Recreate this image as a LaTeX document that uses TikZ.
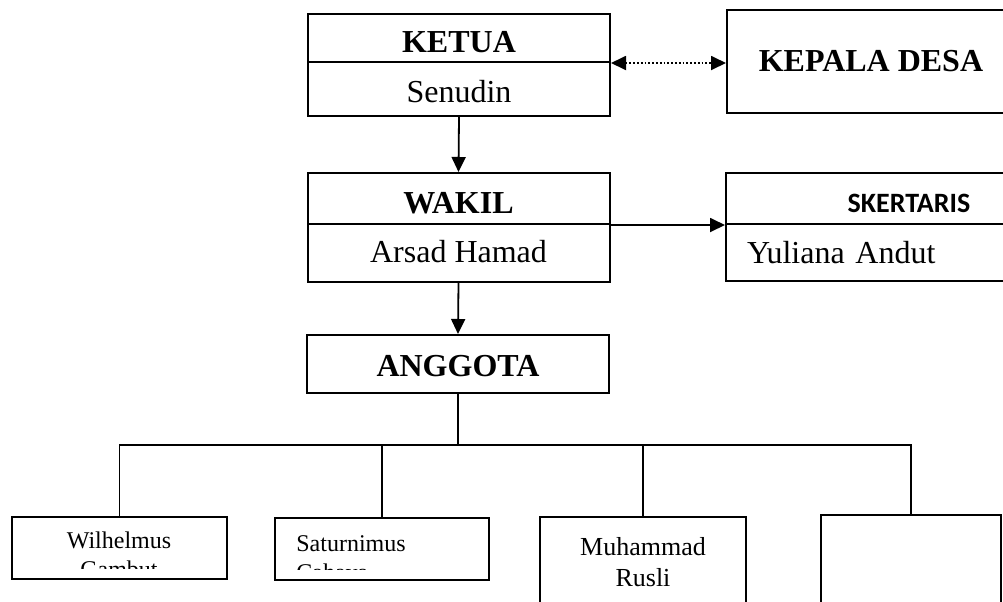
\documentclass[tikz,border=0pt]{standalone}
\usepackage{fontspec}
\setmainfont{Liberation Serif}
\newfontfamily\skfont{Carlito}
\usetikzlibrary{arrows.meta}

\begin{document}
\begin{tikzpicture}[
  x=0.5pt, y=-0.5pt,
  box/.style={draw, line width=1pt, inner sep=0pt, minimum width=151pt, font=\fontsize{16}{19}\selectfont},
  head/.style={box, font=\fontsize{16}{19}\selectfont\bfseries},
  member/.style={draw, line width=1pt, inner sep=0pt},
  txt/.style={anchor=base, inner sep=0pt, font=\fontsize{12}{15}\selectfont},
  arr/.style={-{Triangle[length=7.5pt,width=7pt]}, line width=0.9pt},
  dotarr/.style={{Triangle[length=7.5pt,width=7pt]}-{Triangle[length=7.5pt,width=7pt]}, line width=0.9pt, dash pattern=on 0.9pt off 1pt},
  wire/.style={line width=0.85pt}
]
\clip (0,0) rectangle (1003,601);

% ketua
\node[head, minimum height=24pt, text height=14pt, text depth=0pt] (ketua) at (459,38) {KETUA};
\node[box, minimum height=27pt, text height=13pt, text depth=0pt] (senudin) at (459,89) {Senudin};
\node[head, minimum width=144pt, minimum height=51.5pt] (kades) at (871,61.5) {KEPALA DESA};

% wakil dan sekretaris
\node[head, minimum height=25.5pt, text height=14.5pt, text depth=0pt] (wakil) at (458.5,198.5) {WAKIL};
\node[box, minimum height=29pt, text height=9.5pt, text depth=0pt] (arsad) at (458.5,253) {Arsad Hamad};
\node[box, minimum width=183pt, minimum height=25.5pt, text height=13.5pt, text depth=0pt, font=\fontsize{14}{17}\skfont\bfseries] (skert) at (909,198.5) {SKERTARIS};
\node[box, minimum width=183pt, minimum height=28.5pt, text width=162pt, inner xsep=10.5pt, align=left] (yuliana) at (909,252.5) {Yuliana Andut};

% anggota
\node[head, minimum height=29pt, text height=12pt, text depth=0pt] (anggota) at (458,364) {ANGGOTA};

\node[member, minimum width=107.5pt, minimum height=31pt] (wil) at (119.5,548) {};
\node[member, minimum width=107pt, minimum height=31pt] (sat) at (382,549) {};
\node[member, minimum width=103pt, minimum height=61.5pt] (muh) at (643,578.5) {};
\node[member, minimum width=90pt, minimum height=62.5pt] (kosong) at (911,577.5) {};

\begin{scope}
  \clip (14,519) rectangle (225,568);
  \node[txt] (wil1) at (119,548) {Wilhelmus};
  \node[txt] (wil2) at (119,577) {Gambut};
\end{scope}
\begin{scope}
  \clip (277,520) rectangle (487,569);
  \node[txt, anchor=base west] (sat1) at (296,551) {Saturnimus};
  \node[txt, anchor=base west] (sat2) at (296,580) {Cahaya};
\end{scope}
\node[txt, font=\fontsize{13}{15.5}\selectfont] (muh1) at (643,555) {Muhammad};
\node[txt, font=\fontsize{13}{15.5}\selectfont] (muh2) at (643,586) {Rusli};

% garis
\draw[dotarr] (ketua.south east) -- (kades.west |- ketua.south east);
\draw[arr] (senudin.south) -- (wakil.north);
\draw[arr] (wakil.south east) -- (skert.south west);
\draw[arr] (arsad.south) -- (anggota.north);

\coordinate (bus) at (anggota.south |- 0,445);
\draw[wire] (anggota.south) -- (bus);
\draw[wire] (wil.north) |- (bus) -| (kosong.north);
\draw[wire] (sat.north) -- (sat.north |- bus);
\draw[wire] (muh.north) -- (muh.north |- bus);
\end{tikzpicture}
\end{document}
